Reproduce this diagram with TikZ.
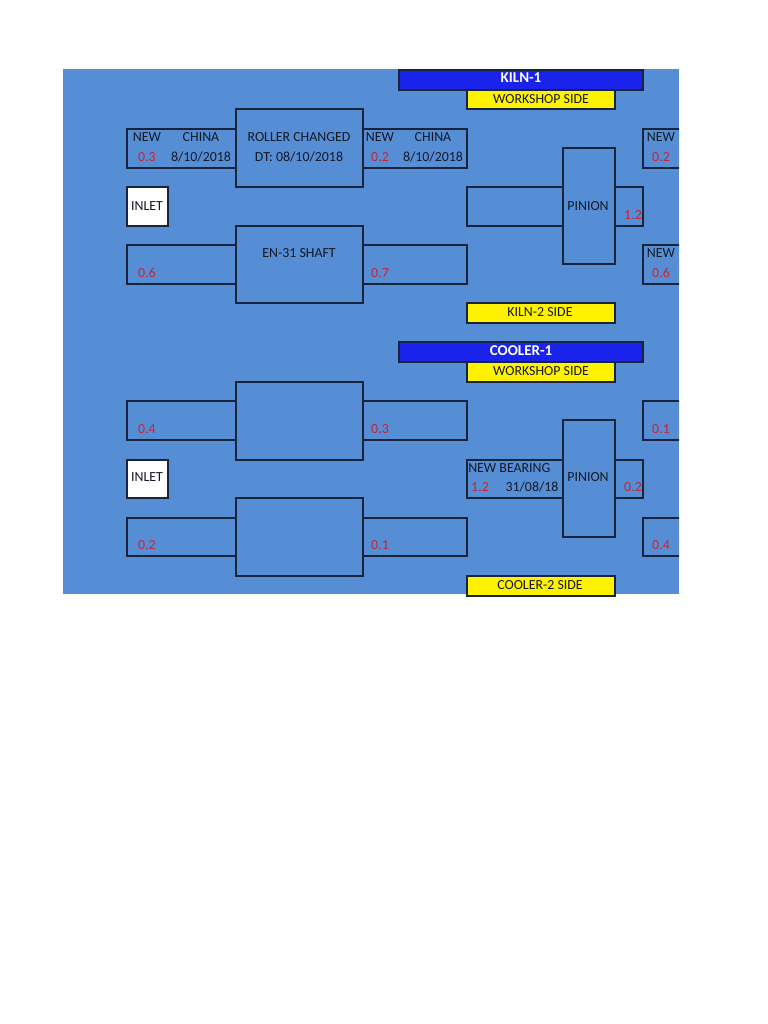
\documentclass[tikz,border=0pt]{standalone}
\usepackage{fontspec}
\setmainfont{Carlito}
\usetikzlibrary{fit}
\definecolor{bg}{RGB}{85,142,213}
\definecolor{edge}{RGB}{25,35,60}
\definecolor{kb}{RGB}{25,35,235}
\definecolor{rd}{RGB}{200,35,50}
\definecolor{tx}{RGB}{20,25,40}
\begin{document}
\begin{tikzpicture}[x=0.797bp,y=-0.797bp,
  boxst/.style={draw=edge, line width=0.9pt, fill=bg, inner sep=0pt},
  txt/.style={font=\fontsize{11.1}{13}\selectfont, text=tx, inner sep=0pt},
  rtxt/.style={txt, text=rd},
  ttl/.style={font=\fontsize{12}{14}\selectfont\bfseries, text=white, inner sep=0pt}]
\useasboundingbox (0,0) rectangle (768,1024);
\fill[bg] (63,69) rectangle (679,594);

% ================= KILN-1 =================
\node[boxst, fit={(127,129)(236,168)}] (kL1) {};
\node[boxst, fit={(127,245)(236,284)}] (kL2) {};
\node[boxst, fit={(363,129)(467,168)}] (kR1) {};
\node[boxst, fit={(363,245)(467,284)}] (kR2) {};
\node[boxst, fit={(236,109)(363,187)}] (kRoll) {};
\node[boxst, fit={(236,226)(363,303)}] (kShaft) {};
\node[boxst, fill=white, fit={(127,187)(168,226)}] (kIn) {};
\node[boxst, fit={(467,187)(563,226)}] (kM) {};
\node[boxst, fit={(615,187)(643,226)}] (kPR) {};
\node[boxst, fit={(563,148)(615,264)}] (kPin) {};
\begin{scope}
  \clip (600,0) rectangle (679,1024);
  \node[boxst, fit={(643,129)(720,168)}] (kF1) {};
  \node[boxst, fit={(643,245)(720,284)}] (kF2) {};
\end{scope}
\node[boxst, fill=kb, fit={(399,70)(643,90)}] (kTitle) {};
\node[boxst, fill=yellow, fit={(467,90)(615,109)}] (kWs) {};
\node[boxst, fill=yellow, fit={(467,303)(615,323)}] (kK2) {};

\node[ttl] (kTt) at (521,78) {KILN-1};
\node[txt] (kWst) at (541,99) {WORKSHOP SIDE};
\node[txt] (kK2t) at (540,312) {KILN-2 SIDE};
\node[txt] (a1) at (147,137) {NEW};
\node[txt] (a2) at (201,137) {CHINA};
\node[rtxt] (a3) at (147,157) {0.3};
\node[txt] (a4) at (201,157) {8/10/2018};
\node[txt] (a5) at (299,137) {ROLLER CHANGED};
\node[txt] (a6) at (299,157) {DT: 08/10/2018};
\node[txt] (a7) at (380,137) {NEW};
\node[txt] (a8) at (433,137) {CHINA};
\node[rtxt] (a9) at (380,157) {0.2};
\node[txt] (a10) at (433,157) {8/10/2018};
\node[txt] (a11) at (661,137) {NEW};
\node[rtxt] (a12) at (661,157) {0.2};
\node[txt] (a13) at (147,206) {INLET};
\node[txt] (a14) at (588,206) {PINION};
\node[rtxt] (a15) at (633,215) {1.2};
\node[txt] (a16) at (299,253) {EN-31 SHAFT};
\node[rtxt] (a17) at (147,273) {0.6};
\node[rtxt] (a18) at (380,273) {0.7};
\node[txt] (a19) at (661,253) {NEW};
\node[rtxt] (a20) at (661,273) {0.6};

% ================= COOLER-1 =================
\node[boxst, fit={(127,401)(236,440)}] (cL1) {};
\node[boxst, fit={(127,518)(236,556)}] (cL2) {};
\node[boxst, fit={(363,401)(467,440)}] (cR1) {};
\node[boxst, fit={(363,518)(467,556)}] (cR2) {};
\node[boxst, fit={(236,382)(363,460)}] (cB1) {};
\node[boxst, fit={(236,498)(363,576)}] (cB2) {};
\node[boxst, fill=white, fit={(127,460)(168,498)}] (cIn) {};
\node[boxst, fit={(467,460)(563,498)}] (cM) {};
\node[boxst, fit={(615,460)(643,498)}] (cPR) {};
\node[boxst, fit={(563,420)(615,537)}] (cPin) {};
\begin{scope}
  \clip (600,0) rectangle (679,1024);
  \node[boxst, fit={(643,401)(720,440)}] (cF1) {};
  \node[boxst, fit={(643,518)(720,556)}] (cF2) {};
\end{scope}
\node[boxst, fill=kb, fit={(399,342)(643,362)}] (cTitle) {};
\node[boxst, fill=yellow, fit={(467,362)(615,382)}] (cWs) {};
\node[boxst, fill=yellow, fit={(467,576)(615,596)}] (cC2) {};

\node[ttl] (cTt) at (521,351) {COOLER-1};
\node[txt] (cWst) at (541,371) {WORKSHOP SIDE};
\node[txt] (cC2t) at (540,585) {COOLER-2 SIDE};
\node[rtxt] (b1) at (147,429) {0.4};
\node[rtxt] (b2) at (380,429) {0.3};
\node[rtxt] (b3) at (661,429) {0.1};
\node[txt] (b4) at (147,477) {INLET};
\node[txt, anchor=west] (b5) at (468,468) {NEW BEARING};
\node[rtxt] (b6) at (480,487) {1.2};
\node[txt] (b7) at (532,487) {31/08/18};
\node[txt] (b8) at (588,477) {PINION};
\node[rtxt] (b9) at (633,487) {0.2};
\node[rtxt] (b10) at (147,545) {0.2};
\node[rtxt] (b11) at (380,545) {0.1};
\node[rtxt] (b12) at (661,545) {0.4};
\end{tikzpicture}
\end{document}
